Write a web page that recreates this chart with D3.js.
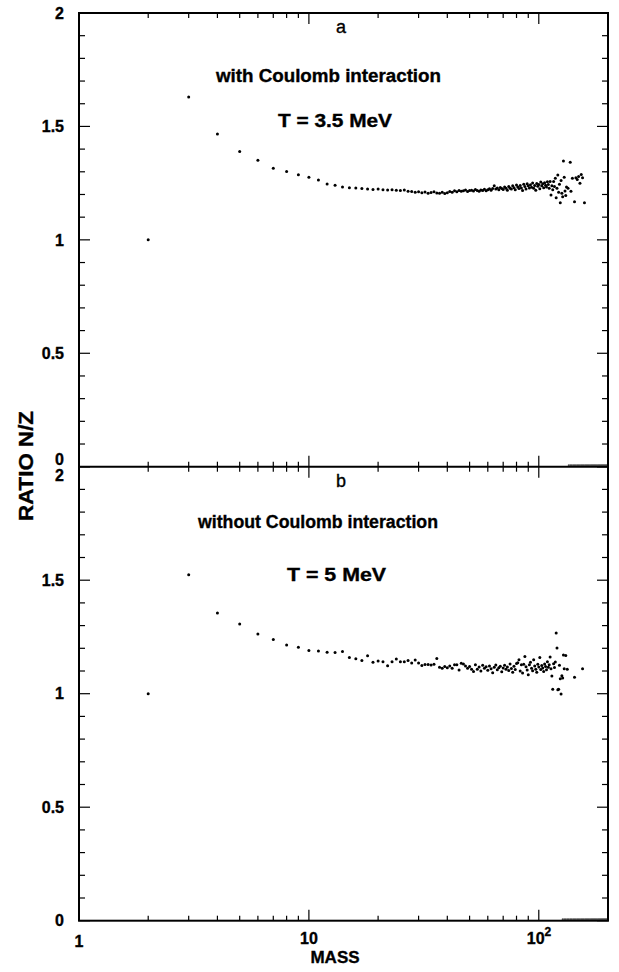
<!DOCTYPE html>
<html><head><meta charset="utf-8">
<script src="https://cdn.jsdelivr.net/npm/d3@7"></script>
<style>
body{margin:0;background:#fff}
text{font-family:"Liberation Sans",Arial,Helvetica,sans-serif;font-weight:bold;fill:#000}
</style>
</head><body>
<svg id="c" width="619" height="972"></svg>
<script>
// ---------- data ----------
const massA = [2,3,4,5,6,7,8,9,10,11,12,13,14,15,16,17,18,19,20,21,22,23,24,25,26,27,28,29,30,31,32,33,34,35,36,37,38,39,40,41,42,43,44,45,46,47,48,49,50,51,52,53,54,55,56,57,58,59,60,61,62,63,64,65,66,67,68,69,70,71,72,73,74,75,76,77,78,79,80,81,82,83,84,85,86,87,88,89,90,91,92,93,94,95,96,97,98,99,100,101,102,103,104,105,106,107,108,109,110,111,112,113,114,115,116,117,118,119,120,121,122,123,124,125,126,127,128,129,130,131,132,134,137,138,140,143,145,147,149,151,153,155,158];
const ratioA = [1.000,1.630,1.467,1.389,1.351,1.316,1.301,1.287,1.276,
 1.264,1.246,1.241,1.233,1.230,1.229,1.226,1.224,1.222,1.224,
 1.221,1.220,1.221,1.219,1.218,1.220,1.214,1.213,1.210,1.212,
 1.208,1.211,1.205,1.209,1.212,1.207,1.205,1.210,1.204,1.208,
 1.213,1.210,1.216,1.212,1.218,1.214,1.216,1.220,1.213,1.217,
 1.219,1.215,1.222,1.218,1.214,1.220,1.217,1.223,1.216,1.221,
 1.225,1.219,1.226,1.238,1.224,1.229,1.221,1.231,1.226,1.222,
 1.233,1.227,1.219,1.235,1.228,1.224,1.238,1.230,1.221,1.242,
 1.233,1.226,1.240,1.229,1.218,1.245,1.235,1.224,1.247,1.238,
 1.229,1.243,1.232,1.251,1.227,1.240,1.219,1.248,1.236,1.244,
 1.225,1.255,1.238,1.247,1.230,1.252,1.241,1.233,1.256,1.244,
 1.228,1.257,1.198,1.239,1.221,1.257,1.235,1.272,1.186,1.228,
 1.286,1.210,1.245,1.164,1.262,1.205,1.190,1.348,1.276,1.215,
 1.195,1.233,
 1.227,1.342,1.214,1.272,1.168,1.274,1.266,1.279,1.250,1.288,1.274,1.164];
const zeroA = [135,137,139,141,143,145,147,149,151,153,155,157,159,161,163,165,167,169,171,173,175,177,179,181,183,185,187,189,191,193,195,197,199];

const massB = [2,3,4,5,6,7,8,9,10,11,12,13,14,15,16,17,18,19,20,21,22,23,24,25,26,27,28,29,30,31,32,33,34,35,36,37,38,39,40,41,42,43,44,45,46,47,48,49,50,51,52,53,54,55,56,57,58,59,60,61,62,63,64,65,66,67,68,69,70,71,72,73,74,75,76,77,78,79,80,81,82,83,84,85,86,87,88,89,90,91,92,93,94,95,96,97,98,99,100,101,102,103,104,105,106,107,108,109,110,111,112,113,114,115,116,117,118,119,120,121,122,123,124,125,126,127,128,129,131,133,143,155];
const ratioB = [1.000,1.524,1.355,1.307,1.263,1.239,1.214,1.205,1.190,
 1.188,1.183,1.182,1.186,1.160,1.154,1.146,1.167,1.138,1.144,
 1.141,1.123,1.141,1.153,1.141,1.141,1.146,1.135,1.148,1.135,
 1.124,1.129,1.129,1.126,1.130,1.155,1.116,1.112,1.120,1.114,
 1.122,1.112,1.127,1.127,1.104,1.134,1.131,1.122,1.112,1.120,
 1.108,1.098,1.127,1.108,1.118,1.100,1.125,1.112,1.119,1.103,
 1.122,1.110,1.092,1.117,1.126,1.106,1.114,1.121,1.097,1.113,
 1.125,1.108,1.118,1.102,1.131,1.111,1.095,1.121,1.107,1.133,
 1.136,1.150,1.100,1.127,1.091,1.130,1.164,1.119,1.104,1.084,
 1.127,1.138,1.112,1.101,1.150,1.122,1.108,1.095,1.130,1.118,
 1.159,1.107,1.124,1.113,1.098,1.131,1.120,1.105,1.141,1.116,
 1.127,1.162,1.110,1.078,1.020,1.132,1.115,1.140,1.267,1.201,
 1.017,1.020,1.125,1.066,0.999,1.079,1.069,1.170,1.110,
 1.168,1.108,1.073,1.110];
const zeroB = [127,129,131,133,135,137,139,141,143,145,147,149,151,153,155,157,159,161,163,165,167,169,171,173,175,177,179,181,183,185,187,189,191,193,195,197,199];

const xMajor = [1,10,100];
const xMinor = [2,3,4,5,6,7,8,9,20,30,40,50,60,70,80,90];
const yMajor = [0,0.5,1,1.5,2];
const yMinor = [0.1,0.2,0.3,0.4,0.6,0.7,0.8,0.9,1.1,1.2,1.3,1.4,1.6,1.7,1.8,1.9];
const yLabels = ["0","0.5","1","1.5","2"];

const panelA = {letter:"a", line1:"with Coulomb interaction", line2:"T = 3.5 MeV"};
const panelB = {letter:"b", line1:"without Coulomb interaction", line2:"T = 5 MeV"};

// ---------- layout ----------
const L = 79, R = 608, T = 13, M = 466.7, B = 920.7;
const svg = d3.select("#c");
const x = d3.scaleLog().domain([1,200]).range([L,R]);
const yA = d3.scaleLinear().domain([0,2]).range([M,T]);
const yB = d3.scaleLinear().domain([0,2]).range([B,M]);

function txt(sel){ return sel.attr("stroke","#000").attr("stroke-width",0.35); }

function panel(y, top, bottom, mass, ratio, zeros, info, isTop){
  const g = svg.append("g");
  const tick = (v,len)=>{
    g.append("line").attr("x1",L).attr("x2",L+len).attr("y1",y(v)).attr("y2",y(v)).attr("stroke","#000").attr("stroke-width",1.2);
    g.append("line").attr("x1",R).attr("x2",R-len).attr("y1",y(v)).attr("y2",y(v)).attr("stroke","#000").attr("stroke-width",1.2);
  };
  yMinor.forEach(v=>tick(v,6));
  yMajor.forEach(v=>tick(v,11));
  const xt = (v,len)=>{
    g.append("line").attr("x1",x(v)).attr("x2",x(v)).attr("y1",top).attr("y2",top+len).attr("stroke","#000").attr("stroke-width",1.2);
    g.append("line").attr("x1",x(v)).attr("x2",x(v)).attr("y1",bottom).attr("y2",bottom-len).attr("stroke","#000").attr("stroke-width",1.2);
  };
  xMinor.forEach(v=>xt(v,5));
  xMajor.filter(v=>v>1).forEach(v=>xt(v,11));
  yMajor.forEach((v,i)=>{
    let dy = 0;
    if(isTop && v===0) dy = -7;
    if(!isTop && v===2) dy = 9;
    txt(g.append("text")).attr("x",64).attr("y",y(v)+dy).attr("dy","0.36em")
      .attr("text-anchor","end").style("font-size","16px").text(yLabels[i]);
  });
  g.selectAll("circle.p").data(mass.map((m,i)=>[m,ratio[i]])).enter().append("circle")
    .attr("cx",d=>x(d[0])).attr("cy",d=>y(d[1])).attr("r",1.5).attr("fill","#000");
  g.selectAll("circle.z").data(zeros).enter().append("circle")
    .attr("cx",d=>x(d)).attr("cy",y(0)-1.5).attr("r",1.0).attr("fill","#555");
  txt(g.append("text")).attr("x",341).attr("y",top+20).attr("text-anchor","middle").style("font-size","18px").style("font-weight","normal").text(info.letter);
  return g;
}
panel(yA, T, M, massA, ratioA, zeroA, panelA, true);
panel(yB, M, B, massB, ratioB, zeroB, panelB, false);

function ann(t, x0, x1, yb){
  txt(svg.append("text")).attr("x",x0).attr("y",yb).style("font-size","18px")
    .attr("textLength",x1-x0).attr("lengthAdjust","spacingAndGlyphs").text(t);
}
ann(panelA.line1, 216, 441, 82);
ann(panelA.line2, 278, 392, 127);
ann(panelB.line1, 198, 438, 528);
ann(panelB.line2, 287, 386, 581);

// frame
const frame = svg.append("g").attr("fill","none").attr("stroke","#000").attr("stroke-width",2);
frame.append("rect").attr("x",L).attr("y",T).attr("width",R-L).attr("height",B-T);
frame.append("line").attr("x1",L).attr("x2",R).attr("y1",M).attr("y2",M);

// x tick labels
txt(svg.append("text")).attr("x",x(1)).attr("y",947).attr("text-anchor","middle").style("font-size","16px").text("1");
txt(svg.append("text")).attr("x",x(10)).attr("y",944).attr("text-anchor","middle").style("font-size","16px").text("10");
const t100 = txt(svg.append("text")).attr("x",x(100)-12).attr("y",944).style("font-size","16px");
t100.append("tspan").text("10");
t100.append("tspan").attr("dy",-8).style("font-size","12px").text("2");

// axis titles
txt(svg.append("text")).attr("x",335).attr("y",963).attr("text-anchor","middle").style("font-size","17px").text("MASS");
txt(svg.append("text")).attr("transform","translate(33,521) rotate(-90)").style("font-size","20px")
  .attr("textLength",110).attr("lengthAdjust","spacingAndGlyphs").text("RATIO N/Z");
</script>
</body></html>
